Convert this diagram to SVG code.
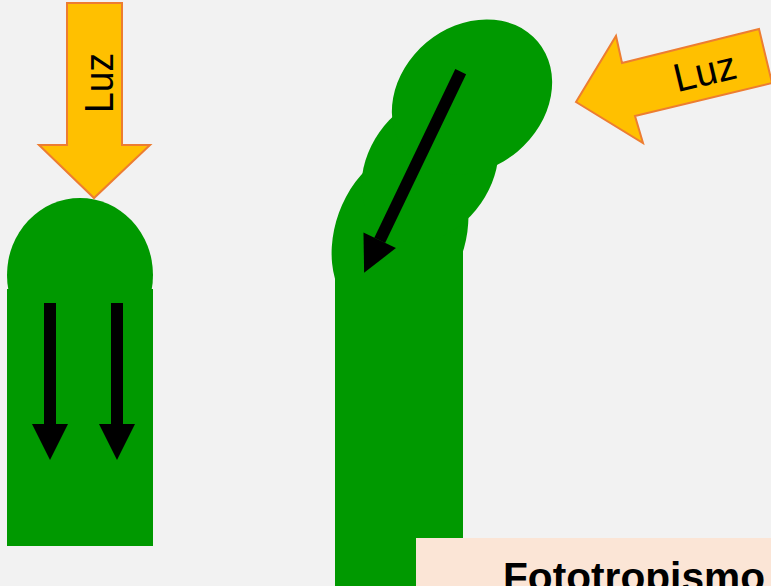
<svg xmlns="http://www.w3.org/2000/svg" width="771" height="586" viewBox="0 0 771 586">
  <defs>
    <marker id="head" markerUnits="userSpaceOnUse" markerWidth="36" markerHeight="36" refX="0" refY="18" orient="auto" overflow="visible">
      <path d="M0,0 L36,18 L0,36 Z" fill="#000"/>
    </marker>
    <style>
      .plant { fill: #009900; }
      .light { fill: #FFC000; stroke: #ED7D31; stroke-width: 2; stroke-linejoin: miter; }
      .flow { stroke: #000; stroke-width: 12; fill: none; marker-end: url(#head); }
      .label { font-family: "Liberation Sans", Arial, sans-serif; font-size: 40px; fill: #000; }
      .caption { font-family: "Liberation Sans", Arial, sans-serif; font-size: 40px; font-weight: bold; fill: #000; }
    </style>
  </defs>

  <rect width="771" height="586" fill="#F2F2F2"/>

  <!-- straight shoot, lit from above -->
  <g id="plant-straight">
    <ellipse class="plant" cx="80" cy="275" rx="73" ry="77"/>
    <rect class="plant" x="7" y="289" width="146" height="257"/>
  </g>

  <!-- light from above -->
  <g id="light-top">
    <polygon class="light" points="67,3 122,3 122,145 150,145 94,198 39,145 67,145"/>
    <text class="label" transform="translate(113,83) rotate(-90)" text-anchor="middle" textLength="60" lengthAdjust="spacingAndGlyphs">Luz</text>
  </g>

  <!-- bent shoot, lit from the side -->
  <g id="plant-bent">
    <ellipse class="plant" cx="400" cy="235" rx="90" ry="65" transform="rotate(-70 400 235)"/>
    <ellipse class="plant" cx="430" cy="168" rx="80" ry="62" transform="rotate(-55 430 168)"/>
    <ellipse class="plant" cx="472" cy="97" rx="86" ry="71" transform="rotate(-40 472 97)"/>
    <rect class="plant" x="335" y="245" width="128" height="341"/>
  </g>

  <!-- light from the right -->
  <g id="light-side">
    <polygon class="light" points="576,102 616,36 622,63 759,29 772,83 635,116 643,143"/>
    <text class="label" transform="translate(708,85) rotate(-13.5)" text-anchor="middle" textLength="63" lengthAdjust="spacingAndGlyphs">Luz</text>
  </g>

  <!-- auxin flow arrows -->
  <g id="connectors">
    <line class="flow" x1="50" y1="303" x2="50" y2="424"/>
    <line class="flow" x1="117" y1="303" x2="117" y2="424"/>
    <line class="flow" x1="460.7" y1="71.7" x2="379.7" y2="240.3"/>
  </g>

  <!-- caption -->
  <g id="caption">
    <rect x="416" y="538" width="355" height="48" fill="#FBE5D6"/>
    <text class="caption" x="503" y="590.5" textLength="262" lengthAdjust="spacingAndGlyphs">Fototropismo</text>
  </g>
</svg>
